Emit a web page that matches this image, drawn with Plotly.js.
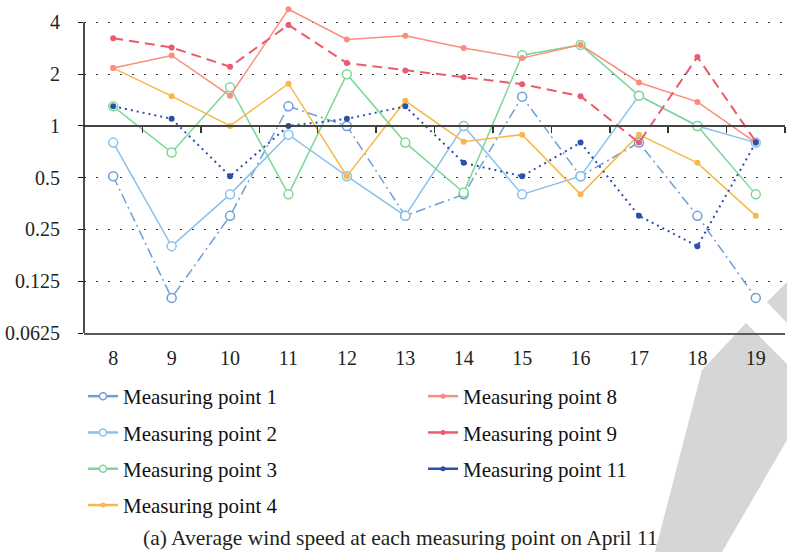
<!DOCTYPE html>
<html>
<head>
<meta charset="utf-8">
<script src="https://cdn.plot.ly/plotly-3.0.1.min.js"></script>
<style>
  html, body { margin: 0; padding: 0; background: #fff; }
  #chart { width: 787px; height: 552px; }
</style>
</head>
<body>
<div id="chart"></div>
<script>
// ---- data ----
const hours = [8, 9, 10, 11, 12, 13, 14, 15, 16, 17, 18, 19];
const mp1  = [0.51, 0.10, 0.30, 1.30, 1.00, 0.30, 0.40, 1.48, 0.51, 0.80, 0.30, 0.10];
const mp2  = [0.80, 0.20, 0.40, 0.89, 0.51, 0.30, 1.00, 0.40, 0.51, 1.50, 1.00, 0.80];
const mp3  = [1.30, 0.70, 1.68, 0.40, 2.00, 0.80, 0.41, 2.58, 2.96, 1.50, 1.00, 0.40];
const mp4  = [2.17, 1.49, 1.00, 1.76, 0.51, 1.40, 0.81, 0.89, 0.40, 0.89, 0.61, 0.30];
const mp8  = [2.17, 2.57, 1.50, 4.77, 3.18, 3.35, 2.84, 2.48, 2.96, 1.79, 1.38, 0.80];
const mp9  = [3.24, 2.86, 2.21, 3.87, 2.32, 2.10, 1.92, 1.75, 1.49, 0.80, 2.52, 0.81];
const mp11 = [1.30, 1.10, 0.51, 1.00, 1.10, 1.30, 0.61, 0.51, 0.80, 0.30, 0.20, 0.80];
const names = ["Measuring point 1", "Measuring point 2", "Measuring point 3", "Measuring point 4",
               "Measuring point 8", "Measuring point 9", "Measuring point 11"];
const yTickVals = [0.0625, 0.125, 0.25, 0.5, 1, 2, 4];
const yTickText = ["0.0625", "0.125", "0.25", "0.5", "1", "2", "4"];
const caption = "(a) Average wind speed at each measuring point on April 11";

// ---- styling ----
const FONT = "'Liberation Serif', 'DejaVu Serif', serif";
const yMin = Math.log10(0.0625), yMax = Math.log10(5.05);
const oneFrac = (0 - yMin) / (yMax - yMin);
const fourFrac = (Math.log10(4) - yMin) / (yMax - yMin);

const series = [
  {y: mp1,  name: names[0], color: '#6f9fd8', dash: '10px,4px,2px,4px', width: 1.5, open: true,  legend: 'legend'},
  {y: mp2,  name: names[1], color: '#88c2ea', dash: 'solid',            width: 1.5, open: true,  legend: 'legend'},
  {y: mp3,  name: names[2], color: '#7bd896', dash: 'solid',            width: 1.5, open: true,  legend: 'legend'},
  {y: mp4,  name: names[3], color: '#f6b84a', dash: 'solid',            width: 1.5, open: false, legend: 'legend'},
  {y: mp8,  name: names[4], color: '#fa8e7c', dash: 'solid',            width: 1.5, open: false, legend: 'legend2'},
  {y: mp9,  name: names[5], color: '#eb5b6d', dash: '10px,6px',         width: 2,   open: false, legend: 'legend2'},
  {y: mp11, name: names[6], color: '#2c4fa7', dash: '2px,4px',          width: 2,   open: false, legend: 'legend2'}
];

const traces = [];
series.forEach(s => {
  traces.push({
    x: hours, y: s.y, name: s.name, type: 'scatter', mode: 'lines+markers',
    line: {color: s.color, width: s.width, dash: s.dash},
    marker: s.open
      ? {symbol: 'circle', size: 9, color: '#ffffff', line: {color: s.color, width: 1.5}}
      : {symbol: 'circle', size: 6, color: s.color},
    showlegend: false, cliponaxis: false
  });
});
// legend entries (solid line keys, as in the reference legend)
series.forEach(s => {
  traces.push({
    x: [null], y: [null], name: s.name, type: 'scatter', mode: 'lines+markers',
    line: {color: s.color, width: 2.5, dash: 'solid'},
    marker: s.open
      ? {symbol: 'circle', size: 7, color: '#ffffff', line: {color: s.color, width: 1.5}}
      : {symbol: 'circle', size: 5, color: s.color},
    legend: s.legend, legendgroup: s.name, showlegend: true
  });
});

const legendCommon = {
  orientation: 'v', xref: 'container', yref: 'container', xanchor: 'left', yanchor: 'top',
  font: {family: FONT, size: 21, color: '#111'}, bgcolor: 'rgba(0,0,0,0)',
  traceorder: 'grouped', tracegroupgap: 6, borderwidth: 0
};

function pathPx(pts) {
  const l = 84, t = 5, w = 701, h = 328;
  return pts.map((p, i) => (i ? 'L' : 'M') + ((p[0] - l) / w).toFixed(4) + ',' + (1 - (p[1] - t) / h).toFixed(4)).join(' ') + ' Z';
}

const layout = {
  width: 787, height: 552,
  margin: {l: 84, r: 2, t: 5, b: 219, autoexpand: false},
  paper_bgcolor: '#ffffff', plot_bgcolor: '#ffffff',
  font: {family: FONT, size: 20, color: '#231f20'},
  showlegend: true,
  legend: Object.assign({}, legendCommon, {x: 83 / 787, y: 1 - 376 / 552}),
  legend2: Object.assign({}, legendCommon, {x: 423 / 787, y: 1 - 376 / 552}),
  xaxis: {
    type: 'linear', range: [7.5, 19.5], tickmode: 'array', tickvals: hours,
    ticktext: hours.map(String), showgrid: false, zeroline: false,
    showline: true, linecolor: '#5a5a5a', linewidth: 2, mirror: false,
    ticks: '', ticklabelstandoff: 6, tickangle: 0, automargin: false,
    tickfont: {family: FONT, size: 20, color: '#231f20'}
  },
  xaxis2: {
    overlaying: 'x', matches: 'x', anchor: 'free', position: oneFrac, side: 'bottom',
    range: [7.5, 19.5], tickmode: 'array',
    tickvals: hours.map(h => h + 0.5),
    showticklabels: false, showgrid: false, zeroline: false,
    showline: true, linecolor: '#444444', linewidth: 2,
    ticks: 'outside', ticklen: 6, tickwidth: 1.5, tickcolor: '#333333'
  },
  yaxis: {
    type: 'log', range: [yMin, yMax], tickmode: 'array',
    tickvals: yTickVals, ticktext: yTickText, automargin: false,
    showgrid: true, gridcolor: '#333333', gridwidth: 1, griddash: '2px,10px',
    zeroline: false, showline: false,
    ticks: 'outside', ticklen: 5, tickwidth: 1, tickcolor: '#111',
    ticklabelstandoff: 14,
    tickfont: {family: FONT, size: 20, color: '#231f20'}
  },
  shapes: [
    {type: 'line', xref: 'paper', yref: 'paper', x0: 0, x1: 0, y0: 0, y1: fourFrac,
     line: {color: '#111111', width: 1.5}},
    {type: 'path', xref: 'paper', yref: 'paper', layer: 'below',
     path: pathPx([[787,282],[767,302],[787,323]]),
     fillcolor: '#d6d6d6', line: {width: 0}},
    {type: 'path', xref: 'paper', yref: 'paper', layer: 'below',
     path: pathPx([[746,323],[702,370],[655,552],[722,552],[787,440],[787,364]]),
     fillcolor: '#d6d6d6', line: {width: 0}}
  ],
  annotations: [
    {text: caption, xref: 'paper', yref: 'paper', x: (400 - 84) / 701, y: (333 - 538) / 328,
     xanchor: 'center', yanchor: 'middle', showarrow: false,
     font: {family: FONT, size: 21.5, color: '#231f20'}}
  ]
};

// dummy trace to activate xaxis2
traces.push({x: [hours[0]], y: [1], xaxis: 'x2', yaxis: 'y', type: 'scatter', mode: 'markers',
  marker: {opacity: 0}, showlegend: false, hoverinfo: 'skip'});

Plotly.newPlot('chart', traces, layout, {staticPlot: true, displayModeBar: false});
</script>
</body>
</html>
